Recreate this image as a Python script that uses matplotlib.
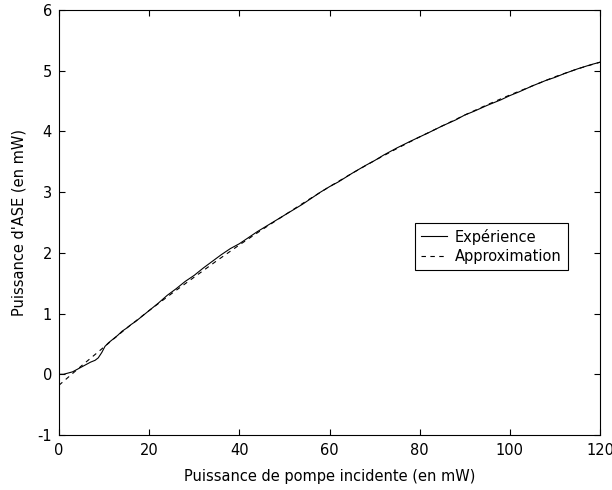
import matplotlib
matplotlib.use("Agg")
import matplotlib.pyplot as plt

plt.rcParams['font.family'] = ['DejaVu Sans']
plt.rcParams['axes.unicode_minus'] = False

# Experimental data (pump power in mW, ASE power in mW)
exp_x = [0, 1, 2, 3, 4, 5, 6, 7, 8, 8.7, 9.5, 10.2, 11, 12, 13, 14, 15, 16, 17,
         18, 20, 22, 24, 26, 28, 30, 32, 34, 36, 38, 40, 42, 44, 46, 48, 50,
         52, 54, 56, 58, 60, 62, 65, 68, 70, 72, 75, 78, 80, 82, 85, 88, 90,
         92, 95, 98, 100, 102, 105, 108, 110, 112, 115, 118, 120]
exp_y = [0.00, 0.00, 0.02, 0.04, 0.08, 0.12, 0.16, 0.20, 0.23, 0.27, 0.36, 0.46,
         0.52, 0.58, 0.64, 0.71, 0.76, 0.82, 0.87, 0.93, 1.05, 1.17, 1.30, 1.41,
         1.53, 1.63, 1.75, 1.86, 1.97, 2.07, 2.15, 2.25, 2.35, 2.44, 2.53, 2.62,
         2.71, 2.80, 2.90, 3.00, 3.09, 3.17, 3.31, 3.44, 3.52, 3.61, 3.73, 3.84,
         3.91, 3.98, 4.09, 4.19, 4.27, 4.33, 4.43, 4.52, 4.59, 4.65, 4.75, 4.84,
         4.89, 4.95, 5.03, 5.10, 5.14]

# Approximation
app_x = [0, 5, 10, 15, 20, 25, 30, 35, 40, 45, 50, 55, 60, 65, 70, 75, 80,
         85, 90, 95, 100, 105, 110, 115, 120]
app_y = [-0.18, 0.14, 0.45, 0.76, 1.05, 1.33, 1.60, 1.87, 2.13, 2.38, 2.62,
         2.86, 3.09, 3.31, 3.52, 3.72, 3.91, 4.09, 4.27, 4.44, 4.60, 4.75,
         4.90, 5.03, 5.14]

x_ticks = [0, 20, 40, 60, 80, 100, 120]
y_ticks = [-1, 0, 1, 2, 3, 4, 5, 6]

fig = plt.figure(figsize=(6.12, 4.90), dpi=100)
ax = fig.add_axes([59/612, 55/490, 541/612, 425/490])

ax.plot(exp_x, exp_y, color='black', linewidth=0.8, linestyle='-', label='Expérience')
ax.plot(app_x, app_y, color='black', linewidth=0.8, linestyle=(0, (4, 4)), label='Approximation')

ax.set_xlim(0, 120)
ax.set_ylim(-1, 6)
ax.set_xticks(x_ticks)
ax.set_yticks(y_ticks)
ax.tick_params(axis='both', direction='in', length=4, width=0.8, top=True, right=True,
               labelsize=10.5, colors='black')
ax.tick_params(axis='x', pad=6)
ax.tick_params(axis='y', pad=5)
for s in ax.spines.values():
    s.set_linewidth(0.8)
    s.set_color('black')

ax.set_xlabel('Puissance de pompe incidente (en mW)', fontsize=10.5, labelpad=8)
ax.set_ylabel("Puissance d'ASE (en mW)", fontsize=10.5, labelpad=8)

leg = ax.legend(loc='upper left', bbox_to_anchor=(0.658, 0.4995), fontsize=10.5,
                frameon=True, fancybox=False, edgecolor='black', framealpha=1,
                borderaxespad=0, borderpad=0.4, handlelength=1.8,
                handletextpad=0.55, labelspacing=0.3)
leg.get_frame().set_linewidth(0.8)

fig.savefig('out.png', dpi=100)
